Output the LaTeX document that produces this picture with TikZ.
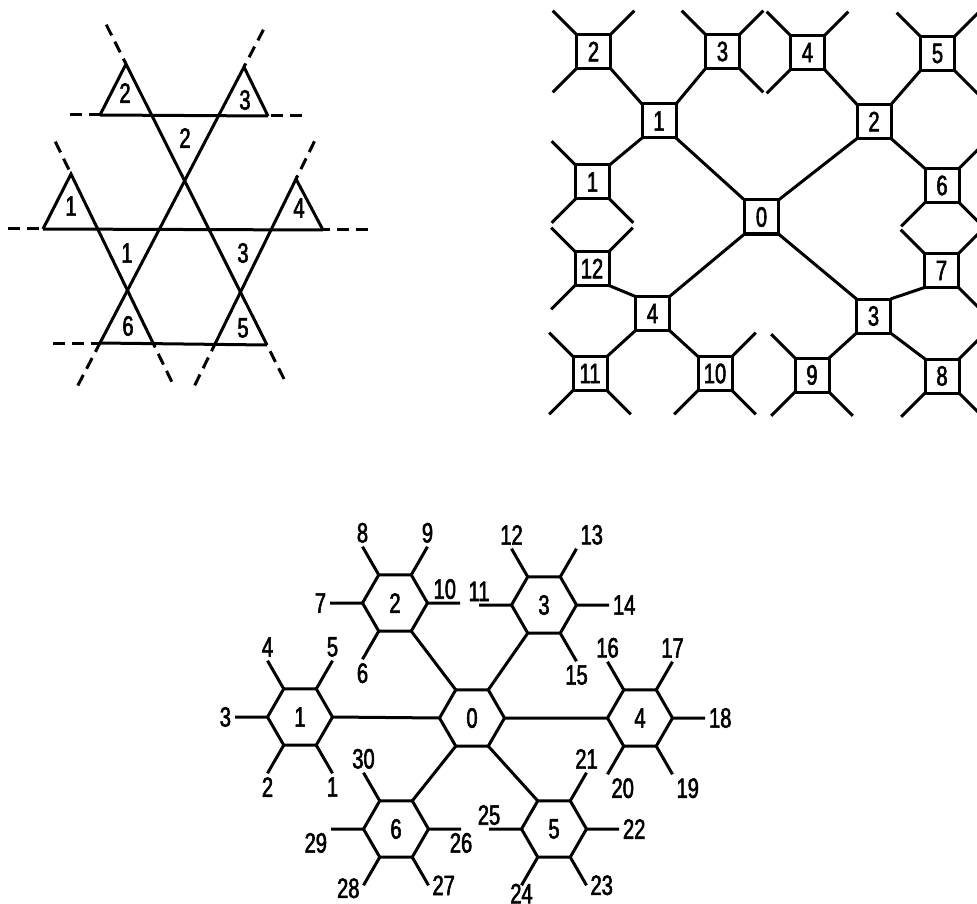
\documentclass[tikz,border=0pt]{standalone}
\usepackage{fontspec}
\newfontfamily\numfont{Liberation Sans}[FakeStretch=0.72,FakeBold=2]
\usetikzlibrary{shapes.geometric,calc}
\tikzset{
  cell/.style={draw,minimum size=34pt,inner sep=0pt,outer sep=0pt},
  hexa/.style={draw,regular polygon,regular polygon sides=6,minimum size=65pt,inner sep=0pt,outer sep=0pt},
  numlabel/.style={inner sep=2.5pt},
  lowleft/.style={left,yshift=-3pt},
  tightbelow/.style={below,inner sep=0pt,yshift=3pt},
  ext/.style={dash pattern=on 12pt off 7pt},
}
\begin{document}
\begin{tikzpicture}[x=1pt,y=-1pt,line width=3pt,font=\numfont\fontsize{28}{32}\selectfont]
\clip (0,0) rectangle (977,904);
% triangles
\coordinate (tA) at (126,64);
\coordinate (tB) at (244,67);
\coordinate (tC) at (71,174);
\coordinate (tD) at (296,179);
\coordinate (hL) at (100,115);
\coordinate (hR) at (268,116);
\coordinate (mL) at (43,229);
\coordinate (mR) at (323,230);
\coordinate (bA) at (100,343);
\coordinate (bB) at (153,343);
\coordinate (bC) at (215,344);
\coordinate (bD) at (267,345);
\draw (hL) -- (tA) -- (bD);
\draw (hR) -- (tB) -- (bA);
\draw (mL) -- (tC) -- (bB);
\draw (mR) -- (tD) -- (bC);
\draw (hL) -- (hR) (mL) -- (mR) (bA) -- (bD);
\draw[ext] ($(tA)!-44pt!(bD)$) -- (tA);
\draw[ext] ($(bD)!-38pt!(tA)$) -- (bD);
\draw[ext] ($(tB)!-42pt!(bA)$) -- (tB);
\draw[ext] ($(bA)!-48pt!(tB)$) -- (bA);
\draw[ext] ($(tC)!-36pt!(bB)$) -- (tC);
\draw[ext] ($(bB)!-43pt!(tC)$) -- (bB);
\draw[ext] ($(tD)!-42pt!(bC)$) -- (tD);
\draw[ext] ($(bC)!-46pt!(tD)$) -- (bC);
\draw[ext] (70,115) -- (hL);
\draw[ext] (302,116) -- (hR);
\draw[ext] (8,229) -- (mL);
\draw[ext] (368,230) -- (mR);
\draw[ext] (53,343) -- (bA);
\node (k2) at (125,93) {2};
\node (k3) at (245,100) {3};
\node (k1) at (71,206) {1};
\node (k4) at (299,208) {4};
\node (k6) at (128,326) {6};
\node (k5) at (243,328) {5};
\node (d2) at (185,138) {2};
\node (d1) at (127,253) {1};
\node (d3) at (243,253) {3};
% squares
\node[cell] (s0) at (761.5,217) {0};
\node[cell] (s1) at (659,121) {1};
\node[cell] (s2) at (874,121.5) {2};
\node[cell] (s3) at (873.5,316) {3};
\node[cell] (s4) at (652.5,313.5) {4};
\node[cell] (t1) at (592.5,182) {1};
\node[cell] (t2) at (593.5,51.5) {2};
\node[cell] (t3) at (722.5,51.5) {3};
\node[cell] (t4) at (807.5,52.5) {4};
\node[cell] (t5) at (937.5,53.5) {5};
\node[cell] (t6) at (942,185.5) {6};
\node[cell] (t7) at (941.5,270.5) {7};
\node[cell] (t8) at (942,376) {8};
\node[cell] (t9) at (812,375) {9};
\node[cell] (t10) at (715,373.5) {10};
\node[cell] (t11) at (590,373.5) {11};
\node[cell] (t12) at (592,268.5) {12};
\draw (s0.north west) -- (s1.south east) (s0.north east) -- (s2.south west)
      (s0.south east) -- (s3.north west) (s0.south west) -- (s4.north east);
\draw (s1.north west) -- (t2.south east) (s1.north east) -- (t3.south west) (s1.south west) -- (t1.north east);
\draw (s2.north west) -- (t4.south east) (s2.north east) -- (t5.south west) (s2.south east) -- (t6.north west);
\draw (s3.north east) -- (t7.south west) (s3.south east) -- (t8.north west) (s3.south west) -- (t9.north east);
\draw (s4.south east) -- (t10.north west) (s4.south west) -- (t11.north east) (s4.north west) -- (t12.south east);
\foreach \t/\cs in {t1/{north west,south west,south east}, t2/{north west,north east,south west},
    t3/{north west,north east,south east}, t4/{north west,north east,south west},
    t5/{north west,north east,south east}, t6/{north east,south west,south east},
    t7/{north west,north east,south east}, t8/{north east,south west,south east},
    t9/{north west,south west,south east}, t10/{north east,south west,south east},
    t11/{north west,south west,south east}, t12/{north west,north east,south west}}
  \foreach \c in \cs
    \draw (\t.\c) -- ($(\t)!2.4!(\t.\c)$);
% hexagons
\node[hexa] (h0) at (472,718) {0};
\node[hexa] (h1) at (300,717) {1};
\node[hexa] (h2) at (395,603) {2};
\node[hexa] (h3) at (544,605) {3};
\node[hexa] (h4) at (640,718) {4};
\node[hexa] (h5) at (554,829) {5};
\node[hexa] (h6) at (396,829) {6};
\draw (h0.180) -- (h1.0) (h0.120) -- (h2.300) (h0.60) -- (h3.240)
      (h0.0) -- (h4.180) (h0.300) -- (h5.120) (h0.240) -- (h6.60);
\foreach \a/\n/\p in {300/1/below, 240/2/below, 180/3/left, 120/4/above, 60/5/above}
  \draw (h1.\a) -- ($(h1)!2!(h1.\a)$) node[numlabel,\p] (n\n) {\n};
\foreach \a/\n/\p in {240/6/below, 180/7/left, 120/8/above, 60/9/above, 0/10/above left}
  \draw (h2.\a) -- ($(h2)!2!(h2.\a)$) node[numlabel,\p] (n\n) {\n};
\foreach \a/\n/\p in {180/11/above, 120/12/above, 60/13/above right, 0/14/right, 300/15/below}
  \draw (h3.\a) -- ($(h3)!2!(h3.\a)$) node[numlabel,\p] (n\n) {\n};
\foreach \a/\n/\p in {120/16/above, 60/17/above, 0/18/right, 300/19/below right, 240/20/below right}
  \draw (h4.\a) -- ($(h4)!2!(h4.\a)$) node[numlabel,\p] (n\n) {\n};
\foreach \a/\n/\p in {60/21/above, 0/22/right, 300/23/right, 240/24/tightbelow, 180/25/above}
  \draw (h5.\a) -- ($(h5)!2!(h5.\a)$) node[numlabel,\p] (n\n) {\n};
\foreach \a/\n/\p in {0/26/below, 300/27/right, 240/28/lowleft, 180/29/below left, 120/30/above}
  \draw (h6.\a) -- ($(h6)!2!(h6.\a)$) node[numlabel,\p] (n\n) {\n};
\end{tikzpicture}
\end{document}
